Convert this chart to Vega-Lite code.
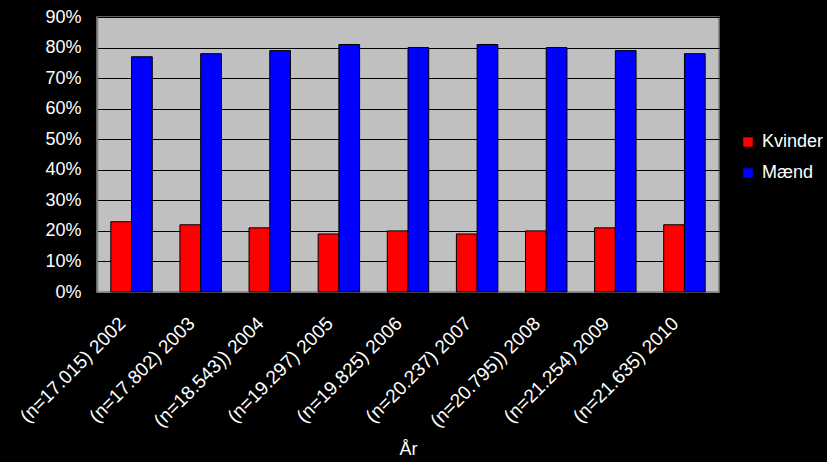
{
  "$schema": "https://vega.github.io/schema/vega-lite/v6.json",
  "autosize": "none",
  "width": 622,
  "height": 275,
  "padding": {"left": 97, "top": 17, "right": 108, "bottom": 170},
  "background": "#000000",
  "config": {
    "font": "Liberation Sans",
    "view": {"fill": "#C0C0C0", "stroke": "#808080", "strokeWidth": 1.5}
  },
  "data": {
    "values": [
      {"aar": "(n=17.015) 2002", "koen": "Kvinder", "andel": 0.23},
      {"aar": "(n=17.015) 2002", "koen": "Mænd", "andel": 0.77},
      {"aar": "(n=17.802) 2003", "koen": "Kvinder", "andel": 0.22},
      {"aar": "(n=17.802) 2003", "koen": "Mænd", "andel": 0.78},
      {"aar": "(n=18.543)) 2004", "koen": "Kvinder", "andel": 0.21},
      {"aar": "(n=18.543)) 2004", "koen": "Mænd", "andel": 0.79},
      {"aar": "(n=19.297) 2005", "koen": "Kvinder", "andel": 0.19},
      {"aar": "(n=19.297) 2005", "koen": "Mænd", "andel": 0.81},
      {"aar": "(n=19.825) 2006", "koen": "Kvinder", "andel": 0.20},
      {"aar": "(n=19.825) 2006", "koen": "Mænd", "andel": 0.80},
      {"aar": "(n=20.237) 2007", "koen": "Kvinder", "andel": 0.19},
      {"aar": "(n=20.237) 2007", "koen": "Mænd", "andel": 0.81},
      {"aar": "(n=20.795)) 2008", "koen": "Kvinder", "andel": 0.20},
      {"aar": "(n=20.795)) 2008", "koen": "Mænd", "andel": 0.80},
      {"aar": "(n=21.254) 2009", "koen": "Kvinder", "andel": 0.21},
      {"aar": "(n=21.254) 2009", "koen": "Mænd", "andel": 0.79},
      {"aar": "(n=21.635) 2010", "koen": "Kvinder", "andel": 0.22},
      {"aar": "(n=21.635) 2010", "koen": "Mænd", "andel": 0.78}
    ]
  },
  "mark": {"type": "bar", "stroke": "#000000", "strokeWidth": 1},
  "encoding": {
    "x": {
      "field": "aar",
      "type": "nominal",
      "sort": null,
      "scale": {"paddingInner": 0.4, "paddingOuter": 0.2},
      "axis": {
        "title": "År",
        "titleColor": "#FFFFFF",
        "titleFontSize": 18,
        "titleFontWeight": "normal",
        "titlePadding": 10,
        "labelAngle": -45,
        "labelAlign": "right",
        "labelBaseline": "middle",
        "labelColor": "#FFFFFF",
        "labelFontSize": 19,
        "labelPadding": 28,
        "labelOffset": -9,
        "labelOverlap": false,
        "labelLimit": 300,
        "ticks": false,
        "domain": true,
        "domainColor": "#808080"
      }
    },
    "xOffset": {"field": "koen", "type": "nominal", "sort": ["Kvinder", "Mænd"]},
    "y": {
      "field": "andel",
      "type": "quantitative",
      "scale": {"domain": [0, 0.9], "nice": false},
      "axis": {
        "title": null,
        "format": ".0%",
        "values": [0, 0.1, 0.2, 0.3, 0.4, 0.5, 0.6, 0.7, 0.8, 0.9],
        "labelColor": "#FFFFFF",
        "labelFontSize": 18,
        "labelPadding": 16,
        "ticks": false,
        "domainColor": "#808080",
        "domainWidth": 1.5,
        "grid": true,
        "gridColor": "#000000",
        "gridWidth": 1.2
      }
    },
    "color": {
      "field": "koen",
      "type": "nominal",
      "sort": ["Kvinder", "Mænd"],
      "scale": {"domain": ["Kvinder", "Mænd"], "range": ["#FF0000", "#0000FF"]},
      "legend": {
        "title": null,
        "orient": "none",
        "legendX": 642,
        "legendY": 116,
        "symbolType": "square",
        "symbolSize": 90,
        "symbolStrokeWidth": 0,
        "labelColor": "#FFFFFF",
        "labelFontSize": 18,
        "labelOffset": 5,
        "rowPadding": 13
      }
    }
  }
}
